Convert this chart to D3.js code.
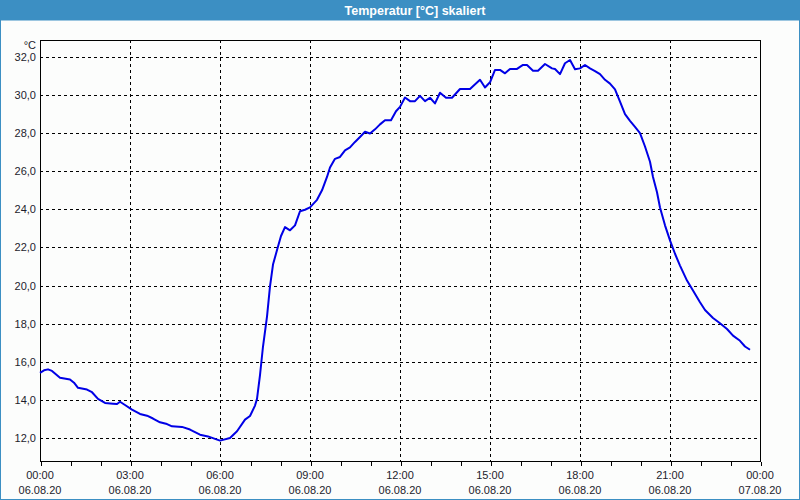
<!DOCTYPE html>
<html>
<head>
<meta charset="utf-8">
<script src="https://cdn.jsdelivr.net/npm/d3@7"></script>
<style>
  html, body { margin: 0; padding: 0; background: #fcfdfc; }
  svg { display: block; }
  text { font-family: "Liberation Sans", Arial, sans-serif; }
</style>
</head>
<body>
<svg id="chart" width="800" height="500"></svg>
<script>
const title = "Temperatur [°C] skaliert";
const unitLabel = "°C";
const times = ["00:00","00:08","00:16","00:24","00:40","01:00","01:08","01:16","01:34","01:44","01:56","02:10","02:26","02:34","02:40","02:50","03:04","03:20","03:34","03:46","04:00","04:14","04:24","04:44","05:00","05:20","05:36","05:50","06:00","06:20","06:34","06:50","07:00","07:10","07:14","07:20","07:26","07:34","07:40","07:46","07:56","08:02","08:10","08:20","08:30","08:40","08:50","09:00","09:14","09:24","09:34","09:40","09:50","10:00","10:10","10:20","10:30","10:40","10:50","11:00","11:10","11:20","11:30","11:42","11:52","12:00","12:10","12:20","12:30","12:40","12:50","13:00","13:10","13:20","13:32","13:44","14:00","14:20","14:40","14:50","15:00","15:10","15:20","15:30","15:40","15:54","16:06","16:14","16:26","16:36","16:50","17:04","17:10","17:20","17:30","17:40","17:50","18:00","18:10","18:20","18:30","18:40","18:50","19:00","19:10","19:20","19:30","19:40","19:50","20:00","20:10","20:20","20:26","20:34","20:40","20:50","21:00","21:10","21:20","21:34","21:46","22:00","22:10","22:26","22:40","22:54","23:06","23:20","23:30","23:40"];
const temps = [15.42,15.55,15.6,15.52,15.16,15.07,14.9,14.63,14.54,14.4,14.05,13.84,13.8,13.78,13.9,13.73,13.49,13.26,13.17,13.02,12.82,12.73,12.61,12.58,12.44,12.17,12.08,11.95,11.86,12.0,12.35,12.96,13.15,13.7,14.05,15.3,16.8,18.37,19.96,21.1,22.05,22.6,23.07,22.9,23.16,23.9,23.98,24.1,24.5,25.0,25.7,26.2,26.65,26.75,27.1,27.25,27.54,27.8,28.07,27.98,28.2,28.46,28.68,28.68,29.15,29.38,29.87,29.68,29.68,29.96,29.68,29.86,29.56,30.12,29.86,29.86,30.32,30.32,30.8,30.4,30.67,31.32,31.32,31.14,31.37,31.37,31.58,31.58,31.28,31.28,31.63,31.4,31.37,31.1,31.67,31.84,31.35,31.4,31.58,31.4,31.26,31.1,30.8,30.6,30.3,29.65,29.0,28.64,28.33,28.0,27.3,26.5,25.7,24.9,24.1,23.16,22.37,21.67,21.05,20.26,19.74,19.12,18.72,18.3,18.02,17.72,17.37,17.1,16.8,16.63];
const yTicks = [12,14,16,18,20,22,24,26,28,30,32];
const startDate = "2020-08-06T00:00";
const endDate = "2020-08-07T00:00";

const svg = d3.select("#chart");
const W = 800, H = 500;
const M = {left: 40, right: 760, top: 40, bottom: 461};
const textColor = "#1c1c2c";

const parse = d3.timeParse("%Y-%m-%dT%H:%M");
const data = times.map((t, i) => ({date: parse("2020-08-06T" + t), v: temps[i]}));

const x = d3.scaleTime().domain([parse(startDate), parse(endDate)]).range([M.left, M.right]);
const y = d3.scaleLinear().domain([10.79, 32.89]).range([M.bottom, M.top]);

// Title bar
svg.append("rect").attr("x", 0).attr("y", 0).attr("width", W).attr("height", 20).attr("fill", "#3c8fc3");
svg.append("text").attr("x", 415).attr("y", 15).attr("text-anchor", "middle")
  .attr("fill", "#ffffff").attr("font-weight", "bold").attr("font-size", "12.5px").text(title);

// Window border
svg.append("rect").attr("x", 0.5).attr("y", 20).attr("width", W - 1).attr("height", H - 20.5)
  .attr("fill", "none").attr("stroke", "#3c8fc3").attr("stroke-width", 1);

// Gridlines horizontal
svg.append("g").selectAll("line").data(yTicks).join("line")
  .attr("x1", M.left).attr("x2", M.right)
  .attr("y1", d => Math.round(y(d)) + 0.5).attr("y2", d => Math.round(y(d)) + 0.5)
  .attr("stroke", "#000").attr("stroke-width", 1).attr("stroke-dasharray", "3,3").attr("shape-rendering", "crispEdges");

// Gridlines vertical (every 3 hours)
const majorTicks = x.ticks(d3.timeHour.every(3));
svg.append("g").selectAll("line").data(majorTicks.filter((d, i) => i > 0 && i < majorTicks.length - 1)).join("line")
  .attr("x1", d => Math.round(x(d)) + 0.5).attr("x2", d => Math.round(x(d)) + 0.5)
  .attr("y1", M.top).attr("y2", M.bottom)
  .attr("stroke", "#000").attr("stroke-width", 1).attr("stroke-dasharray", "3,3").attr("shape-rendering", "crispEdges");

// Frame
svg.append("rect").attr("x", M.left + 0.5).attr("y", M.top + 0.5)
  .attr("width", M.right - M.left).attr("height", M.bottom - M.top)
  .attr("fill", "none").attr("stroke", "#000").attr("stroke-width", 1).attr("shape-rendering", "crispEdges");

// X axis ticks (hourly)
const xAxis = d3.axisBottom(x).ticks(d3.timeHour.every(1)).tickSize(4).tickFormat("");
const gx = svg.append("g").attr("transform", `translate(0.5,${M.bottom + 0.5})`).call(xAxis);
gx.select(".domain").remove();
gx.selectAll("line").attr("stroke", "#000").attr("shape-rendering", "crispEdges");

// X labels
const fmtT = d3.timeFormat("%H:%M"), fmtD = d3.timeFormat("%d.%m.%y");
const lab = svg.append("g").selectAll("g").data(majorTicks).join("g");
lab.append("text").attr("x", d => x(d)).attr("y", 479).attr("text-anchor", "middle")
  .attr("font-size", "11px").attr("fill", textColor).text(fmtT);
lab.append("text").attr("x", d => x(d)).attr("y", 494).attr("text-anchor", "middle")
  .attr("font-size", "11px").attr("fill", textColor).text(fmtD);

// Y labels
svg.append("g").selectAll("text").data(yTicks).join("text")
  .attr("x", 36).attr("y", d => y(d) + 4).attr("text-anchor", "end")
  .attr("font-size", "11px").attr("fill", textColor).text(d => d.toFixed(1).replace(".", ","));
svg.append("text").attr("x", 36).attr("y", 49).attr("text-anchor", "end")
  .attr("font-size", "11px").attr("fill", textColor).text(unitLabel);

// Line
const line = d3.line().x(d => x(d.date)).y(d => y(d.v));
svg.append("path").datum(data).attr("d", line)
  .attr("fill", "none").attr("stroke", "#0000e6").attr("stroke-width", 2).attr("stroke-linejoin", "round");
</script>
</body>
</html>
